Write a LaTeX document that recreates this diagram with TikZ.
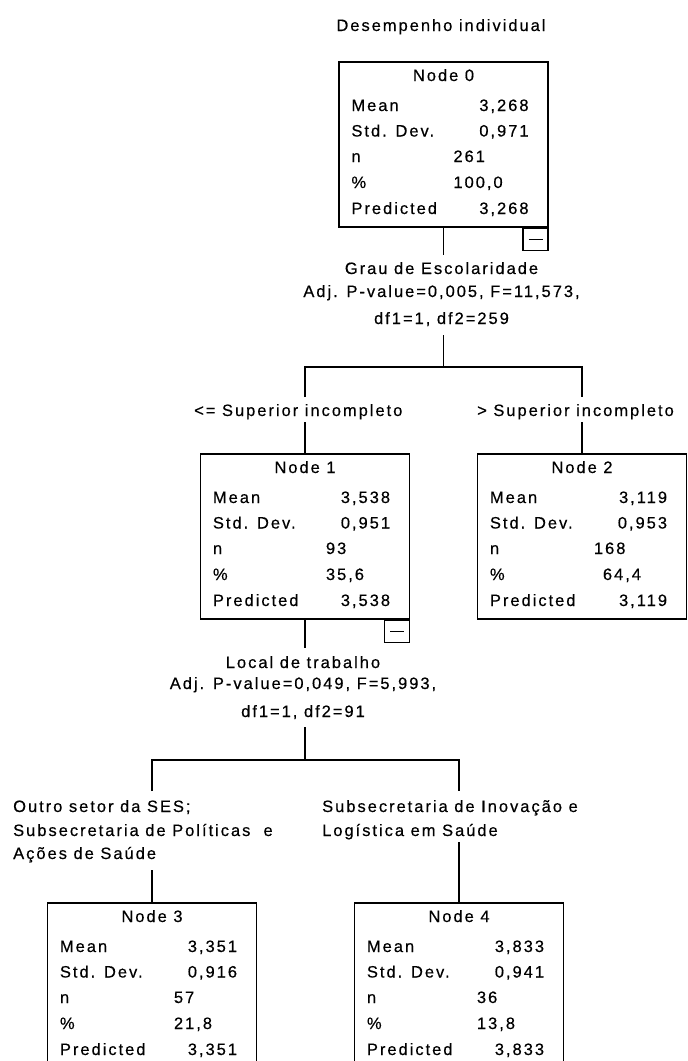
\documentclass[tikz,border=0pt]{standalone}
\usepackage{fontspec}
\usetikzlibrary{calc}
\newfontfamily\spssfont[LetterSpace=12, FakeBold=0.4]{Liberation Sans}

\tikzset{
  txt/.style={font=\spssfont\fontsize{16.5}{20}\selectfont, inner sep=0pt, text=black},
  box/.style={draw=black, line width=1.5pt, minimum width=209pt, minimum height=165pt, inner sep=0pt},
  minusbox/.style={draw=black, line width=1.5pt, minimum width=25pt, minimum height=22pt, inner sep=0pt,
    path picture={\draw[line width=1.3pt]
      ([xshift=-7pt]path picture bounding box.center) -- ([xshift=7pt]path picture bounding box.center);}},
  link/.style={draw=black, line width=1.5pt},
}

% #1 name, #2 centre x, #3 top y, #4 node number, #5 mean (= predicted),
% #6 std. dev., #7 n, #8 percent, #9 x offset of the n / % values
\newcommand\treebox[9]{%
  \node[box, anchor=north] (#1) at (#2,#3) {};
  \node[txt, anchor=base] (#1-head) at ($(#1.north)+(0,20)$) {Node #4};
  \node[txt, anchor=base west] (#1-lmean) at ($(#1.north west)+(13,50)$) {Mean};
  \node[txt, anchor=base east] (#1-vmean) at ($(#1.north east)+(-20,50)$) {#5};
  \node[txt, anchor=base west] (#1-lsd) at ($(#1.north west)+(13,75.5)$) {Std. Dev.};
  \node[txt, anchor=base east] (#1-vsd) at ($(#1.north east)+(-20,75.5)$) {#6};
  \node[txt, anchor=base west] (#1-ln) at ($(#1.north west)+(13,101)$) {n};
  \node[txt, anchor=base west] (#1-vn) at ($(#1.north west)+(#9,101)$) {#7};
  \node[txt, anchor=base west] (#1-lpct) at ($(#1.north west)+(13,127)$) {\%};
  \node[txt, anchor=base west] (#1-vpct) at ($(#1.north west)+(#9,127)$) {#8};
  \node[txt, anchor=base west] (#1-lpred) at ($(#1.north west)+(13,153)$) {Predicted};
  \node[txt, anchor=base east] (#1-vpred) at ($(#1.north east)+(-20,153)$) {#5};
}

\begin{document}
\begin{tikzpicture}[x=1pt, y=-1pt]
  \useasboundingbox (0,0) rectangle (688,1061);
  \clip (0,0) rectangle (688,1061);

  % dependent variable
  \node[txt, anchor=base] (title) at (441,31) {Desempenho individual};

  % root
  \treebox{n0}{443.5}{61}{0}{3,268}{0,971}{261}{100,0}{115}
  \node[minusbox, anchor=north east] (n0-toggle) at (n0.south east) {};

  % first split
  \coordinate (s0-top)  at (443.5,255);
  \coordinate (s0-bot)  at (443.5,335);
  \coordinate (s0-fork) at (443.5,367);
  \node[txt, anchor=base] (s0-var)  at (441.5,274) {Grau de Escolaridade};
  \node[txt, anchor=base] (s0-stat) at (441.5,297) {Adj. P-value=0,005, F=11,573,};
  \node[txt, anchor=base] (s0-df)   at (441.5,324) {df1=1, df2=259};
  \draw[link] (n0.south) -- (s0-top);
  \draw[link] (s0-bot) -- (s0-fork);

  \coordinate (b1-top) at (305,397);
  \coordinate (b1-bot) at (305,422);
  \coordinate (b2-top) at (582,397);
  \coordinate (b2-bot) at (582,422);
  \draw[link] (b1-top) |- (s0-fork) -| (b2-top);
  \node[txt, anchor=base west] (b1-lab) at (194,416) {<= Superior incompleto};
  \node[txt, anchor=base west] (b2-lab) at (477,416) {> Superior incompleto};

  \treebox{n1}{305}{453}{1}{3,538}{0,951}{93}{35,6}{126}
  \node[minusbox, anchor=north east] (n1-toggle) at (n1.south east) {};
  \treebox{n2}{582}{453}{2}{3,119}{0,953}{168}{\hspace{9pt}64,4}{117}
  \draw[link] (b1-bot) -- (n1.north);
  \draw[link] (b2-bot) -- (n2.north);

  % second split
  \coordinate (s1-top)  at (305,648);
  \coordinate (s1-bot)  at (305,727);
  \coordinate (s1-fork) at (305,760);
  \node[txt, anchor=base] (s1-var)  at (303,668) {Local de trabalho};
  \node[txt, anchor=base] (s1-stat) at (303,689) {Adj. P-value=0,049, F=5,993,};
  \node[txt, anchor=base] (s1-df)   at (303,717) {df1=1, df2=91};
  \draw[link] (n1.south) -- (s1-top);
  \draw[link] (s1-bot) -- (s1-fork);

  \coordinate (b3-top) at (152,791);
  \coordinate (b3-bot) at (152,870);
  \coordinate (b4-top) at (459,791);
  \coordinate (b4-bot) at (459,842);
  \draw[link] (b3-top) |- (s1-fork) -| (b4-top);
  \node[txt, anchor=base west] (b3-lab1) at (13,812) {Outro setor da SES;};
  \node[txt, anchor=base west] (b3-lab2) at (13,836) {Subsecretaria de Políticas~ e};
  \node[txt, anchor=base west] (b3-lab3) at (13,859) {Ações de Saúde};
  \node[txt, anchor=base west] (b4-lab1) at (322,812) {Subsecretaria de Inovação e};
  \node[txt, anchor=base west] (b4-lab2) at (322,836) {Logística em Saúde};

  \treebox{n3}{152}{902}{3}{3,351}{0,916}{57}{21,8}{127}
  \treebox{n4}{459}{902}{4}{3,833}{0,941}{36}{13,8}{123}
  \draw[link] (b3-bot) -- (n3.north);
  \draw[link] (b4-bot) -- (n4.north);
\end{tikzpicture}
\end{document}
